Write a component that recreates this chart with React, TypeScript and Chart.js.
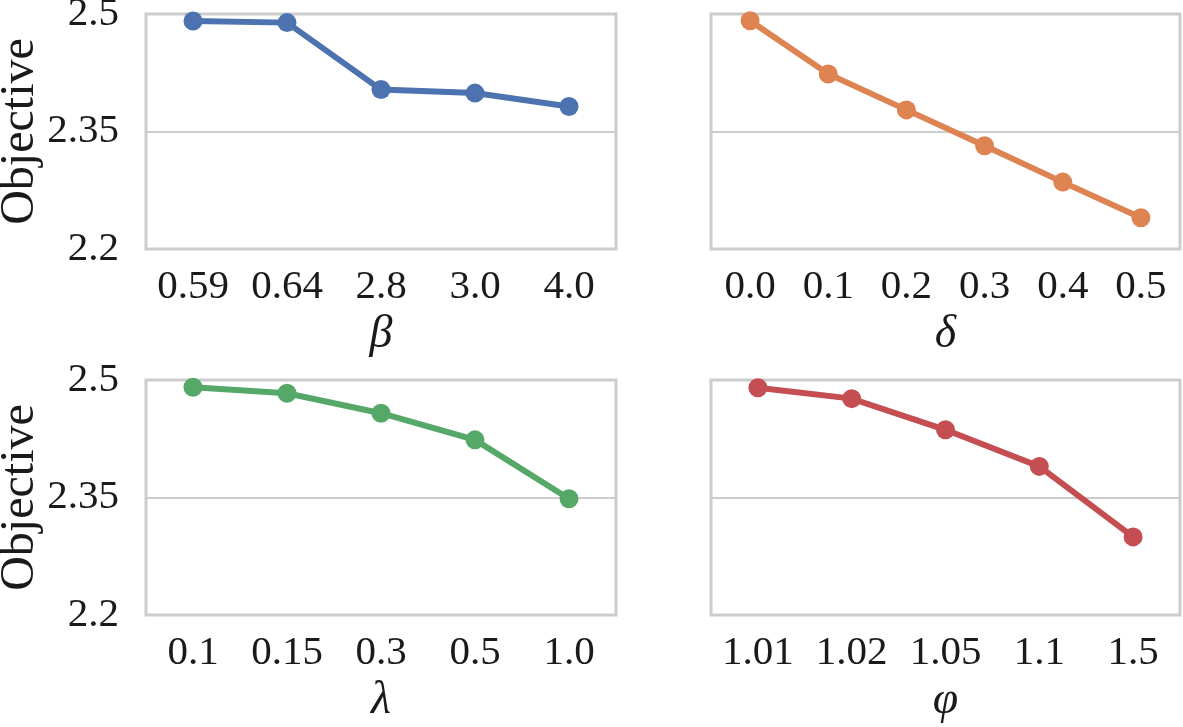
import React, { useEffect, useRef } from "react";
import { Chart, registerables } from "chart.js";
Chart.register(...registerables);

const betaLabels = ["0.59", "0.64", "2.8", "3.0", "4.0"];
const betaValues = [2.491, 2.489, 2.4035, 2.399, 2.382];
const deltaLabels = ["0.0", "0.1", "0.2", "0.3", "0.4", "0.5"];
const deltaValues = [2.4915, 2.4235, 2.3776, 2.3317, 2.2854, 2.24];
const lambdaLabels = ["0.1", "0.15", "0.3", "0.5", "1.0"];
const lambdaValues = [2.4907, 2.483, 2.4576, 2.4236, 2.3485];
const phiLabels = ["1.01", "1.02", "1.05", "1.1", "1.5"];
const phiValues = [2.49, 2.4762, 2.4364, 2.3897, 2.2997];
const yTicks = [2.2, 2.35, 2.5];
const yTickLabels = ["2.2", "2.35", "2.5"];
const yMin = 2.2;
const yMax = 2.5;
const yTitle = "Objective";

const FONT = "'Liberation Serif', 'DejaVu Serif', serif";
const GRID = "#cccccc";
const TEXT = "#1a1a1a";

const framePlugin = {
  id: "frame",
  beforeDatasetsDraw(chart: any) {
    const { ctx, chartArea } = chart;
    ctx.save();
    ctx.strokeStyle = GRID;
    ctx.lineWidth = 3;
    ctx.strokeRect(chartArea.left, chartArea.top, chartArea.right - chartArea.left, chartArea.bottom - chartArea.top);
    ctx.restore();
  },
};

type PanelProps = {
  labels: string[];
  values: number[];
  color: string;
  xTitle: string;
  showY: boolean;
  left: number;
  top: number;
  width: number;
  height: number;
  padTop: number;
  padRight: number;
  yWidth: number;
  xHeight: number;
  titlePadBottom: number;
};

function Panel(p: PanelProps) {
  const ref = useRef<HTMLCanvasElement | null>(null);
  useEffect(() => {
    if (!ref.current) return;
    const chart = new Chart(ref.current, {
      type: "line",
      data: {
        labels: p.labels,
        datasets: [
          {
            data: p.values,
            borderColor: p.color,
            backgroundColor: p.color,
            borderWidth: 6,
            pointRadius: 9.5,
            pointHoverRadius: 9.5,
            pointBorderWidth: 0,
            tension: 0,
            clip: false as any,
          },
        ],
      },
      plugins: [framePlugin],
      options: {
        animation: false,
        responsive: false,
        events: [],
        layout: { padding: { top: p.padTop, right: p.padRight, left: 0, bottom: 0 } },
        plugins: { legend: { display: false }, tooltip: { enabled: false } },
        scales: {
          x: {
            type: "category",
            offset: true,
            grid: { display: false, drawTicks: false },
            border: { display: false },
            ticks: {
              padding: 14,
              color: TEXT,
              font: { family: FONT, size: 41 },
              maxRotation: 0,
              autoSkip: false,
            },
            title: {
              display: true,
              text: p.xTitle,
              color: TEXT,
              font: { family: FONT, size: 46, style: "italic", lineHeight: 1.0 },
              padding: { top: 0, bottom: p.titlePadBottom },
            },
            afterFit(scale: any) {
              scale.height = p.xHeight;
              scale.paddingLeft = 0;
              scale.paddingRight = 0;
            },
          } as any,
          y: {
            type: "linear",
            min: yMin,
            max: yMax,
            grid: { color: GRID, lineWidth: 2, drawTicks: false },
            border: { display: false },
            ticks: {
              display: p.showY,
              padding: 27,
              color: TEXT,
              font: { family: FONT, size: 41 },
              callback: (v: any) => {
                const i = yTicks.findIndex((t) => Math.abs(t - Number(v)) < 1e-6);
                return i >= 0 ? yTickLabels[i] : "";
              },
            },
            title: {
              display: p.showY,
              text: yTitle,
              color: TEXT,
              font: { family: FONT, size: 48, lineHeight: 0.85 },
              padding: { top: 0, bottom: 0 },
            },
            afterBuildTicks(scale: any) {
              scale.ticks = yTicks.map((v) => ({ value: v }));
            },
            afterFit(scale: any) {
              scale.width = p.yWidth;
              scale.paddingTop = 0;
              scale.paddingBottom = 0;
            },
          } as any,
        },
      },
    });
    return () => chart.destroy();
  }, []);
  return (
    <canvas
      ref={ref}
      width={p.width}
      height={p.height}
      style={{ position: "absolute", left: p.left, top: p.top, width: p.width, height: p.height }}
    />
  );
}

export default function App() {
  return (
    <div
      style={{
        position: "absolute",
        left: 0,
        top: 0,
        width: 1183,
        height: 727,
        overflow: "hidden",
        background: "#ffffff",
      }}
    >
      <Panel labels={betaLabels} values={betaValues} color="#4C72B0" xTitle="β" showY={true}
        left={0} top={0} width={640} height={360} padTop={14} padRight={24} yWidth={146} xHeight={111} titlePadBottom={2} />
      <Panel labels={deltaLabels} values={deltaValues} color="#DD8452" xTitle="δ" showY={false}
        left={640} top={0} width={560} height={360} padTop={14} padRight={20} yWidth={71} xHeight={111} titlePadBottom={2} />
      <Panel labels={lambdaLabels} values={lambdaValues} color="#55A868" xTitle="λ" showY={true}
        left={0} top={360} width={640} height={367} padTop={20} padRight={24} yWidth={146} xHeight={112} titlePadBottom={3} />
      <Panel labels={phiLabels} values={phiValues} color="#C44E52" xTitle="φ" showY={false}
        left={640} top={360} width={560} height={367} padTop={20} padRight={20} yWidth={71} xHeight={112} titlePadBottom={3} />
    </div>
  );
}
